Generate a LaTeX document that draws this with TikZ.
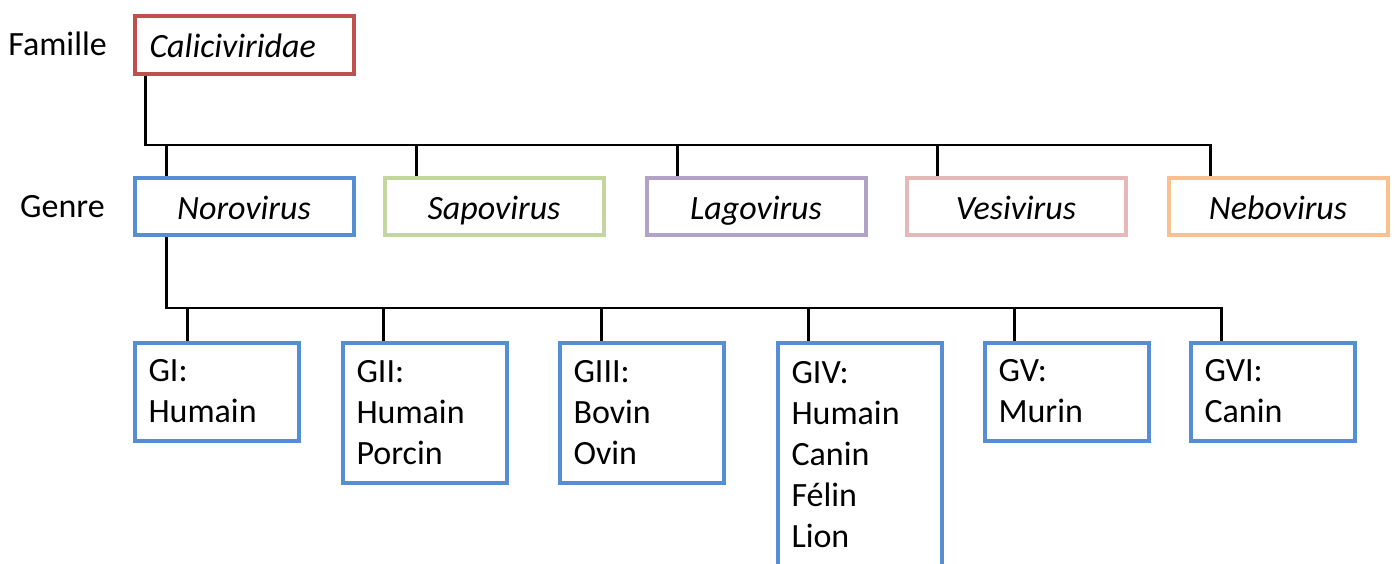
\documentclass[tikz,border=0pt]{standalone}
\usepackage{fontspec}
\setmainfont{Carlito}
\definecolor{cred}{HTML}{C0504D}
\definecolor{nblue}{HTML}{558ED5}
\definecolor{cgreen}{HTML}{C3D69B}
\definecolor{cpurple}{HTML}{B3A2C7}
\definecolor{cpink}{HTML}{E6B9B8}
\definecolor{corange}{HTML}{FAC090}
\begin{document}
\begin{tikzpicture}[x=1pt,y=-1pt,
  box/.style={draw, line width=4pt, fill=white, anchor=north west, inner sep=0pt,
    xshift=-1.5pt, yshift=1.5pt, font=\fontsize{34}{41}\selectfont},
  genbox/.style={box, minimum width=219pt, minimum height=57pt,
    text height=26pt, text depth=0pt,
    font=\fontsize{34}{41}\selectfont\itshape},
  grpbox/.style={box, draw=nblue, align=left, inner xsep=14pt, minimum width=164pt,
    text width=136pt},
  lbl/.style={anchor=east, inner sep=0pt, font=\fontsize{34}{41}\selectfont},
  conn/.style={line width=2.8pt}]
\useasboundingbox (0,0) rectangle (1395,563);
\clip (0,0) rectangle (1395,563);

\node[lbl] (famille) at (107,44) {Famille};
\node[lbl] (genre) at (105,207) {Genre};

\node[box, draw=cred, minimum width=219pt, minimum height=58pt, align=left,
  inner xsep=15pt, text width=189pt, text height=26pt, text depth=0pt,
  font=\fontsize{34}{41}\selectfont\itshape]
  (cal) at (134,15) {Caliciviridae};

\node[genbox, draw=nblue] (noro) at (134,177) {Norovirus};
\node[genbox, draw=cgreen] (sapo) at (384,177) {Sapovirus};
\node[genbox, draw=cpurple] (lago) at (646,177) {Lagovirus};
\node[genbox, draw=cpink] (vesi) at (906,177) {Vesivirus};
\node[genbox, draw=corange] (neb) at (1168,177) {Nebovirus};

\node[grpbox, minimum height=98pt] (g1) at (134,342) {GI:\\Humain};
\node[grpbox, minimum height=140pt] (g2) at (342,342) {GII:\\Humain\\Porcin};
\node[grpbox, minimum height=140pt] (g3) at (559,342) {GIII:\\Bovin\\Ovin};
\node[grpbox, minimum height=224pt] (g4) at (777,342) {GIV:\\Humain\\Canin\\Félin\\Lion};
\node[grpbox, minimum height=98pt] (g5) at (984,342) {GV:\\Murin};
\node[grpbox, minimum height=98pt] (g6) at (1190,342) {GVI:\\Canin};

% first level
\coordinate (bar1) at (0,145);
\coordinate (calbot) at ([xshift=13pt]cal.south west);
\coordinate (norotop) at ([xshift=34pt]noro.north west);
\coordinate (sapotop) at ([xshift=34pt]sapo.north west);
\coordinate (lagotop) at ([xshift=33pt]lago.north west);
\coordinate (vesitop) at ([xshift=33pt]vesi.north west);
\coordinate (nebtop) at ([xshift=44pt]neb.north west);
\draw[conn] (calbot) -- (calbot |- bar1) -- (nebtop |- bar1) -- (nebtop);
\foreach \n in {noro,sapo,lago,vesi}
  \draw[conn] (\n top |- bar1) -- (\n top);

% second level
\coordinate (bar2) at (0,308);
\coordinate (norobot) at ([xshift=34pt]noro.south west);
\coordinate (g1top) at ([xshift=55pt]g1.north west);
\coordinate (g2top) at ([xshift=43pt]g2.north west);
\coordinate (g3top) at ([xshift=44pt]g3.north west);
\coordinate (g4top) at ([xshift=33pt]g4.north west);
\coordinate (g5top) at ([xshift=32pt]g5.north west);
\coordinate (g6top) at ([xshift=33pt]g6.north west);
\draw[conn] (norobot) -- (norobot |- bar2) -- (g6top |- bar2) -- (g6top);
\foreach \n in {g1,g2,g3,g4,g5}
  \draw[conn] (\n top |- bar2) -- (\n top);
\end{tikzpicture}
\end{document}
